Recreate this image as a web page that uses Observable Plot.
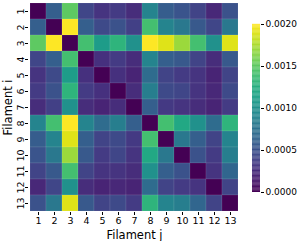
<!DOCTYPE html>
<html><head><meta charset="utf-8">
<script src="https://cdn.jsdelivr.net/npm/d3@7"></script>
<script src="https://cdn.jsdelivr.net/npm/@observablehq/plot@0.6"></script>
<style>
body{margin:0;background:#fff;}
#wrap{position:relative;width:299px;height:241px;font-family:"DejaVu Sans",sans-serif;}
#wrap svg{position:absolute;top:0;}
</style></head>
<body><div id="wrap"></div>
<script>
const filaments = [1,2,3,4,5,6,7,8,9,10,11,12,13];
const row1  = [0,       0.0006,  0.0015, 0.00042, 0.0003,  0.00035, 0.00025, 0.0009,  0.00058, 0.00052, 0.0004,  0.00022, 0.0005];
const row2  = [0.0006,  0,       0.002,  0.0006,  0.00045, 0.0005,  0.00038, 0.0014,  0.0009,  0.0008,  0.00055, 0.00042, 0.0008];
const row3  = [0.0015,  0.002,   0,      0.0014,  0.0011,  0.0013,  0.001,   0.002,   0.0019,  0.0017,  0.0014,  0.001,   0.0019];
const row4  = [0.00042, 0.0006,  0.0014, 0,       0.00028, 0.00035, 0.00025, 0.0009,  0.0006,  0.00055, 0.0004,  0.00025, 0.00055];
const row5  = [0.0003,  0.00045, 0.0011, 0.00028, 0,       0.00028, 0.0002,  0.0007,  0.0004,  0.00035, 0.0003,  0.0002,  0.0004];
const row6  = [0.00035, 0.0005,  0.0013, 0.00035, 0.00028, 0,       0.00025, 0.00085, 0.00045, 0.00042, 0.0003,  0.00022, 0.00045];
const row7  = [0.00025, 0.00038, 0.001,  0.00025, 0.0002,  0.00025, 0,       0.0006,  0.00033, 0.0003,  0.00025, 0.0002,  0.00035];
const row8  = [0.0009,  0.0014,  0.002,  0.0009,  0.0007,  0.00085, 0.0006,  0,       0.0014,  0.0012,  0.001,   0.0007,  0.0013];
const row9  = [0.00058, 0.0009,  0.0019, 0.0006,  0.0004,  0.00045, 0.00033, 0.0014,  0,       0.0008,  0.0006,  0.0004,  0.0009];
const row10 = [0.00052, 0.0008,  0.0017, 0.00055, 0.00035, 0.00042, 0.0003,  0.0012,  0.0008,  0,       0.0005,  0.00035, 0.00085];
const row11 = [0.0004,  0.00055, 0.0014, 0.0004,  0.0003,  0.0003,  0.00025, 0.001,   0.0006,  0.0005,  0,       0.0003,  0.00065];
const row12 = [0.00022, 0.00042, 0.001,  0.00025, 0.0002,  0.00022, 0.0002,  0.0007,  0.0004,  0.00035, 0.0003,  0,       0.0004];
const row13 = [0.0005,  0.0008,  0.0019, 0.00055, 0.0004,  0.00045, 0.00035, 0.0013,  0.0009,  0.00085, 0.00065, 0.0004,  0];
const colorTicks = [0, 0.0005, 0.001, 0.0015, 0.002];
const colorDomain = [0, 0.002];

const rows = [row1,row2,row3,row4,row5,row6,row7,row8,row9,row10,row11,row12,row13];
const cells = [];
rows.forEach((r, i) => r.forEach((v, j) => cells.push({i: filaments[i], j: filaments[j], v})));

const font = "DejaVu Sans";
const main = Plot.plot({
  width: 240, height: 241,
  marginLeft: 28, marginRight: 0, marginTop: 2, marginBottom: 29,
  style: {fontFamily: font, fontSize: "9.5px", background: "transparent"},
  x: {domain: filaments, padding: 0},
  y: {domain: filaments, padding: 0},
  color: {type: "linear", scheme: "viridis", domain: colorDomain},
  marks: [
    Plot.cell(cells, {x: "j", y: "i", fill: "v", stroke: "white", strokeOpacity: 0.15, strokeWidth: 0.6}),
    Plot.axisX({tickSize: 3, tickPadding: 2, label: "Filament j", labelAnchor: "center", labelArrow: "none", labelOffset: 26, fontSize: 9.5}),
    Plot.axisY({tickSize: 3, tickPadding: 2, tickRotate: -90, label: "Filament i", labelAnchor: "center", labelArrow: "none", labelOffset: 25, fontSize: 9.5})
  ]
});
main.style.left = "0px";
main.querySelectorAll('[aria-label="x-axis label"] text, [aria-label="y-axis label"] text').forEach(t => t.style.fontSize = "11.5px");

const stops = d3.range(0, 200).map(k => ({a: colorDomain[1] * k / 200, b: colorDomain[1] * (k + 1) / 200}));
const bar = Plot.plot({
  width: 54, height: 241,
  marginLeft: 7, marginRight: 39, marginTop: 24, marginBottom: 49,
  style: {fontFamily: font, fontSize: "9px", background: "transparent"},
  x: {domain: [0, 1], axis: null},
  y: {domain: colorDomain},
  color: {type: "linear", scheme: "viridis", domain: colorDomain},
  marks: [
    Plot.rect(stops, {x1: 0, x2: 1, y1: "a", y2: d => d.b + 0.000002, fill: d => (d.a + d.b) / 2}),
    Plot.axisY({anchor: "right", ticks: colorTicks, tickFormat: d3.format(".4f"), tickSize: 3, tickPadding: 2, label: null})
  ]
});
bar.style.left = "245px";
document.getElementById("wrap").append(main, bar);
</script></body></html>
